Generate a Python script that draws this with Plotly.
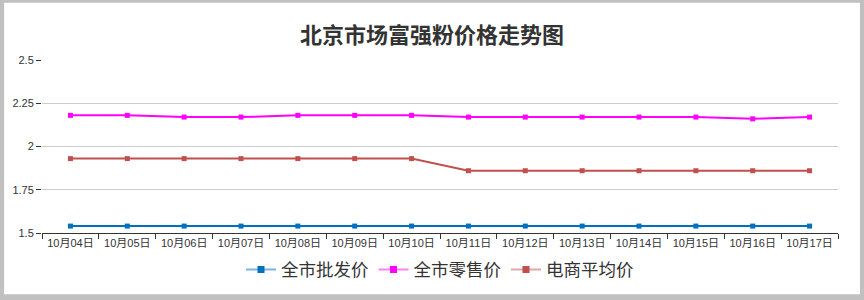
import plotly.graph_objects as go

dates = ["10月04日", "10月05日", "10月06日", "10月07日", "10月08日", "10月09日", "10月10日",
         "10月11日", "10月12日", "10月13日", "10月14日", "10月15日", "10月16日", "10月17日"]
wholesale = [1.54] * 14
retail = [2.18, 2.18, 2.17, 2.17, 2.18, 2.18, 2.18, 2.17, 2.17, 2.17, 2.17, 2.17, 2.16, 2.17]
ecommerce = [1.93, 1.93, 1.93, 1.93, 1.93, 1.93, 1.93, 1.86, 1.86, 1.86, 1.86, 1.86, 1.86, 1.86]

series = [("全市批发价", wholesale, "#0070C0", "#7ab4e0"),
          ("全市零售价", retail, "#FF00FF", "#ff80ff"),
          ("电商平均价", ecommerce, "#C0504D", "#e0a8a6")]

font_family = "Liberation Sans, Arial, Noto Sans CJK SC, sans-serif"

fig = go.Figure()
for name, vals, color, light in series:
    fig.add_trace(go.Scatter(
        x=dates, y=vals, name=name, mode="lines+markers", legendgroup=name,
        showlegend=False,
        line=dict(color=color, width=2),
        marker=dict(symbol="square", size=5, color=color),
    ))
    fig.add_trace(go.Scatter(
        x=[None], y=[None], name=name, mode="lines+markers", legendgroup=name,
        line=dict(color=light, width=2),
        marker=dict(symbol="square", size=7, color=color),
    ))

L, R, T, B = 40, 26, 60, 65
W, H = 864, 300
pw, ph = W - L - R, H - T - B

fig.update_layout(
    width=W, height=H,
    margin=dict(l=L, r=R, t=T, b=B),
    paper_bgcolor="#c0c0c0", plot_bgcolor="white",
    font=dict(family=font_family, color="#333333", size=11),
    title=dict(text="<b>北京市场富强粉价格走势图</b>", x=0.5, xanchor="center",
               y=1 - 35 / H, yanchor="middle", yref="container",
               font=dict(size=22, color="#333333")),
    showlegend=True,
    legend=dict(orientation="h", x=0.5, xanchor="center", y=-(272 - (H - B)) / ph,
                yanchor="middle", font=dict(size=17.5, color="#333333"),
                bgcolor="rgba(0,0,0,0)", itemwidth=30, tracegroupgap=0),
    xaxis=dict(type="category", range=[-0.5, 13.5], tickson="boundaries",
               ticks="outside", ticklen=5, tickcolor="#333333",
               showline=True, linecolor="#333333", linewidth=1,
               showgrid=False, tickfont=dict(size=11, color="#333333")),
    yaxis=dict(range=[1.5, 2.5], tickvals=[1.5, 1.75, 2, 2.25, 2.5],
               ticktext=["1.5", "1.75", "2", "2.25", "2.5"],
               ticks="outside", ticklen=5, tickcolor="#333333",
               showline=False, showgrid=True, gridcolor="#cccccc", gridwidth=1,
               zeroline=False, tickfont=dict(size=11, color="#333333")),
    shapes=[dict(type="rect", xref="paper", yref="paper",
                 x0=(2 - L) / pw, x1=(860 - L) / pw,
                 y0=-(B - 3) / ph, y1=1 + (T - 2) / ph,
                 line=dict(width=0), fillcolor="white",
                 layer="below")],
)

fig.write_html("out.html")
